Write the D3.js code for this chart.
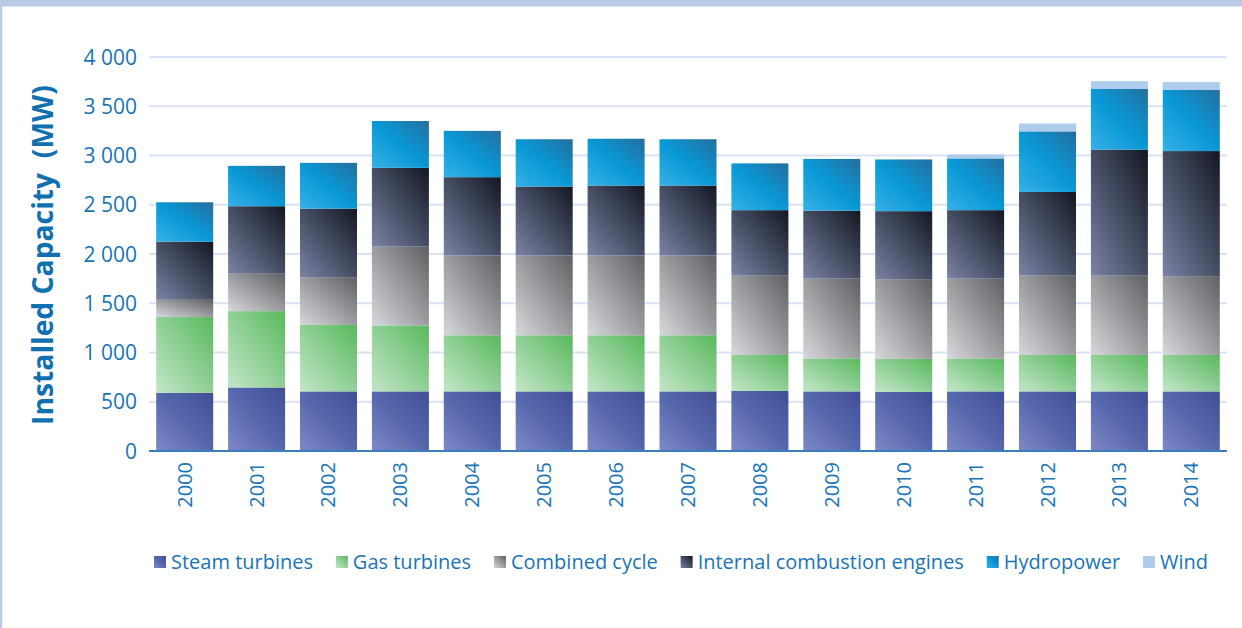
<!DOCTYPE html>
<html>
<head>
<meta charset="utf-8">
<script src="https://cdn.jsdelivr.net/npm/d3@7/dist/d3.min.js"></script>
<style>
  html, body { margin: 0; padding: 0; background: #fff; }
  svg { display: block; }
  text { font-family: "Open Sans", "Noto Sans", sans-serif; }
</style>
</head>
<body>
<svg id="chart" width="1242" height="628"></svg>
<script>
// ---- Data ----
const years = ["2000","2001","2002","2003","2004","2005","2006","2007","2008","2009","2010","2011","2012","2013","2014"];
const steamTurbines = [590, 645, 605, 605, 605, 605, 605, 605, 610, 605, 600, 605, 605, 605, 605];
const gasTurbines   = [770, 775, 675, 670, 570, 570, 570, 570, 365, 335, 335, 335, 370, 370, 370];
const combinedCycle = [175, 380, 485, 800, 810, 810, 810, 810, 805, 810, 810, 810, 810, 805, 800];
const internalCombustion = [590, 685, 695, 800, 795, 700, 710, 710, 665, 690, 690, 695, 845, 1280, 1270];
const hydropower    = [400, 410, 465, 475, 470, 480, 475, 470, 475, 525, 525, 525, 615, 615, 620];
const wind          = [0, 0, 0, 0, 0, 0, 0, 0, 0, 0, 0, 40, 80, 80, 80];
const seriesNames = ["Steam turbines", "Gas turbines", "Combined cycle", "Internal combustion engines", "Hydropower", "Wind"];
const yTickValues = [0, 500, 1000, 1500, 2000, 2500, 3000, 3500, 4000];
const yTickLabels = ["0", "500", "1 000", "1 500", "2 000", "2 500", "3 000", "3 500", "4 000"];
const yTitle = "Installed Capacity\u00A0\u00A0(MW)";

// ---- Styles ----
const gradients = [
  ["#7e89c6", "#5767ad", "#3f4e95"],   // steam
  ["#c3e6c8", "#90cf96", "#58b95b"],   // gas
  ["#d7d8dc", "#9a9ca0", "#5f6064"],   // combined
  ["#7a83a4", "#454d63", "#131722"],   // ICE
  ["#38b0e6", "#0898d5", "#246f9e"],   // hydro
  ["#aecdec", "#aecdec", "#aecdec"]    // wind
];
const textBlue = "#1874b6";

const svg = d3.select("#chart");
const W = 1242, H = 628;

// page frame
svg.append("rect").attr("x", 0).attr("y", 0).attr("width", W).attr("height", H).attr("fill", "#fff");
svg.append("rect").attr("x", 0).attr("y", 0).attr("width", W).attr("height", 6.5).attr("fill", "#b9cbe5");
svg.append("rect").attr("x", 0).attr("y", 0).attr("width", 2.3).attr("height", H).attr("fill", "#b9cbe5");

// gradients
const defs = svg.append("defs");
gradients.forEach((g, i) => {
  const lg = defs.append("linearGradient").attr("id", "g" + i)
    .attr("x1", 0).attr("y1", 1).attr("x2", 1).attr("y2", 0);
  lg.append("stop").attr("offset", "0%").attr("stop-color", g[0]);
  lg.append("stop").attr("offset", "50%").attr("stop-color", g[1]);
  lg.append("stop").attr("offset", "100%").attr("stop-color", g[2]);
});

// scales
const x = d3.scaleBand().domain(years).range([149, 1227]).paddingInner(0.207).paddingOuter(0.1);
const y = d3.scaleLinear().domain([0, 4000]).range([451, 57]);

// gridlines
svg.append("g").selectAll("line").data(yTickValues.filter(v => v > 0)).join("line")
  .attr("x1", 149).attr("x2", 1227)
  .attr("y1", d => y(d)).attr("y2", d => y(d))
  .attr("stroke", "#d8e2f3").attr("stroke-width", 1.8);

// y axis labels
const yAxis = d3.axisLeft(y).tickValues(yTickValues).tickSize(0).tickPadding(0)
  .tickFormat((d, i) => yTickLabels[i]);
const yg = svg.append("g").attr("transform", "translate(137,0)").call(yAxis);
yg.select(".domain").remove();
yg.selectAll("text").attr("fill", textBlue).style("font-size", "21px").style("font-weight", 400)
  .attr("dy", "0.34em");

// stacked data
const table = years.map((yr, i) => ({
  year: yr,
  s0: steamTurbines[i], s1: gasTurbines[i], s2: combinedCycle[i],
  s3: internalCombustion[i], s4: hydropower[i], s5: wind[i]
}));
const stack = d3.stack().keys(["s0","s1","s2","s3","s4","s5"]);
const layers = stack(table);

svg.append("g").selectAll("g").data(layers).join("g")
  .attr("fill", (d, i) => `url(#g${i})`)
  .selectAll("rect").data(d => d.filter(p => p[1] - p[0] > 0)).join("rect")
  .attr("x", d => x(d.data.year))
  .attr("width", x.bandwidth())
  .attr("y", d => y(d[1]))
  .attr("height", d => y(d[0]) - y(d[1]));

// baseline
svg.append("line").attr("x1", 149).attr("x2", 1227).attr("y1", y(0)).attr("y2", y(0))
  .attr("stroke", "#3b7dc3").attr("stroke-width", 2);

// x labels (rotated)
svg.append("g").selectAll("text").data(years).join("text")
  .attr("transform", d => `translate(${x(d) + x.bandwidth() / 2},462) rotate(-90)`)
  .attr("text-anchor", "end").attr("dy", "0.35em")
  .attr("fill", textBlue).style("font-size", "20px").style("font-weight", 400)
  .text(d => d);

// y title
const yt = svg.append("text")
  .attr("transform", "translate(53,255) rotate(-90)")
  .attr("text-anchor", "middle")
  .attr("fill", "#1170b0").style("font-size", "28px").style("font-weight", 700)
  .text(yTitle);
const ytLen = yt.node().getComputedTextLength();
yt.style("font-size", (28 * 340 / ytLen).toFixed(2) + "px");

// legend
const legend = svg.append("g");
const items = legend.selectAll("g").data(seriesNames).join("g");
items.append("rect").attr("width", 12).attr("height", 12).attr("y", 556)
  .attr("fill", (d, i) => `url(#g${i})`);
const labels = items.append("text").attr("y", 569)
  .attr("fill", textBlue).style("font-size", "20px").style("font-weight", 400)
  .text(d => d);
const widths = labels.nodes().map(n => n.getComputedTextLength());
const startX = 154, endX = 1208, sq = 12, sqGap = 5;
const used = widths.reduce((a, w) => a + w + sq + sqGap, 0);
const gap = (endX - startX - used) / (seriesNames.length - 1);
let cx = startX;
items.each(function(d, i) {
  const g = d3.select(this);
  g.select("rect").attr("x", cx);
  g.select("text").attr("x", cx + sq + sqGap);
  cx += sq + sqGap + widths[i] + gap;
});
</script>
</body>
</html>
